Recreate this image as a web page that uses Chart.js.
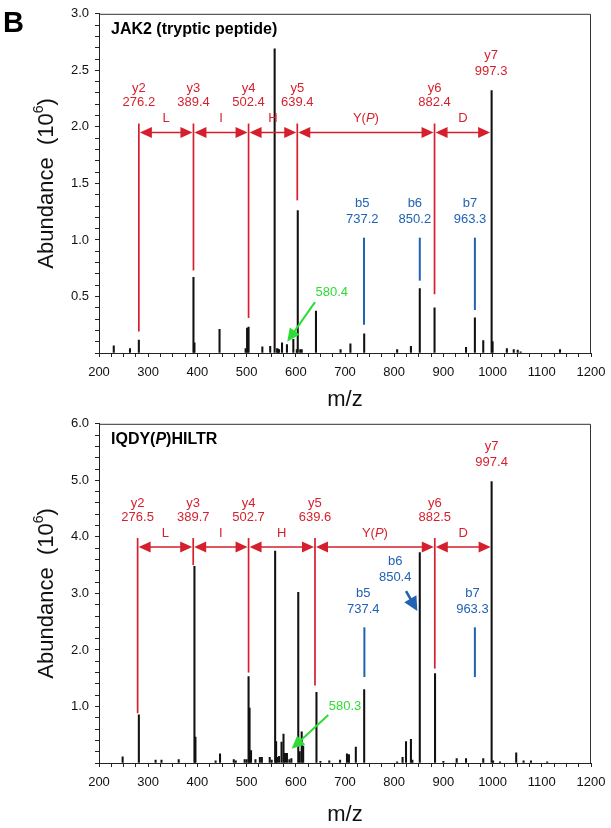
<!DOCTYPE html>
<html>
<head>
<meta charset="utf-8">
<script src="https://cdn.jsdelivr.net/npm/chart.js@4.4.0/dist/chart.umd.min.js"></script>
<style>
html,body{margin:0;padding:0;background:#fff;}
body{width:611px;height:828px;position:relative;overflow:hidden;}
#c1{position:absolute;left:0;top:0;}
#c2{position:absolute;left:0;top:410px;}
</style>
</head>
<body>
<canvas id="c1" width="611" height="410"></canvas>
<canvas id="c2" width="611" height="418"></canvas>
<script>
// peaks, top spectrum (JAK2 tryptic peptide), abundance in 10^6
const topMz = [230,263,281,392,394,445,498,501,504,532,548,557,562,564,566,572,582,595,602,604,609,612,641,691,711,739,806,834,852,882,946,964,981,998,1000,1029,1043,1051,1057,1137];
const topAb = [0.064,0.04,0.115,0.67,0.09,0.21,0.04,0.22,0.23,0.055,0.06,2.69,0.04,0.035,0.03,0.09,0.075,0.12,0.03,1.26,0.03,0.03,0.37,0.03,0.08,0.17,0.03,0.06,0.57,0.40,0.05,0.31,0.11,2.32,0.1,0.04,0.03,0.025,0.01,0.03];

// peaks, bottom spectrum (IQDY(P)HILTR)
const botMz = [248,281,315,327,362,394,396,437,446,474,478,496,500,504,506,509,518,527,531,547,551,558,560,562,566,571,575,578,582,587,591,605,608,612,615,642,650,668,690,704,708,722,739,806,817,824,834,837,852,883,900,927,946,981,998,1001,1015,1048,1063,1078,1111];
const botAb = [0.11,0.85,0.05,0.05,0.06,3.48,0.46,0.04,0.16,0.06,0.04,0.06,0.06,1.53,0.97,0.22,0.06,0.1,0.1,0.1,0.05,3.75,0.38,0.1,0.12,0.37,0.51,0.17,0.17,0.06,0.08,3.02,0.2,0.55,0.3,1.25,0.03,0.04,0.05,0.16,0.15,0.28,1.30,0.02,0.1,0.38,0.42,0.05,3.72,1.58,0.03,0.08,0.08,0.08,4.98,0.04,0.02,0.18,0.04,0.04,0.02];

// y-ion ladder
const yIonName = ['y2','y3','y4','y5','y6','y7'];
const residues = ['L','I','H','Y(P)','D'];
const topIonMz = [281,392,504,603,882,997];
const topIonMass = ['276.2','389.4','502.4','639.4','882.4','997.3'];
const topIonEnd = [0.19,0.73,0.31,1.35,0.52,null];
const botIonMz = [278.5,391.5,504,639,882.5,998];
const botIonMass = ['276.5','389.7','502.7','639.6','882.5','997.4'];
const botIonEnd = [0.88,3.5,1.6,1.37,1.67,null];

// b ions
const bIonName = ['b5','b6','b7'];
const topBMz = [738.6,852,964];
const topBLabelMz = [735,842,954];
const topBMass = ['737.2','850.2','963.3'];
const topBEnd = [0.25,0.64,0.38];
const botBMz = [739.4,852,964];
const botBLabelMz = [737,802,959];
const botBMass = ['737.4','850.4','963.3'];
const botBTop = [2.40,2.96,2.40];
const botBEnd = [1.52,null,1.52];

const FONT = '"Liberation Sans", Arial, Helvetica, sans-serif';
const RED = '#d61f2d', BLUE = '#2162b4', GREEN = '#2fdc36';

function rich(ctx, parts, x, y, align) {
  let w = 0;
  parts.forEach(p => { ctx.font = p[1]; w += ctx.measureText(p[0]).width; });
  let cx = align === 'center' ? x - w / 2 : (align === 'right' ? x - w : x);
  ctx.textAlign = 'left';
  parts.forEach(p => { ctx.font = p[1]; ctx.fillText(p[0], cx, y + (p[2] || 0)); cx += ctx.measureText(p[0]).width; });
}

function head(ctx, tx, ty, ang, len, hw) {
  const bx = tx - len * Math.cos(ang), by = ty - len * Math.sin(ang);
  ctx.beginPath();
  ctx.moveTo(tx, ty);
  ctx.lineTo(bx - hw * Math.sin(ang), by + hw * Math.cos(ang));
  ctx.lineTo(bx + hw * Math.sin(ang), by - hw * Math.cos(ang));
  ctx.closePath();
  ctx.fill();
}

function arrow(ctx, x1, y1, x2, y2, len, hw, lw, color) {
  const ang = Math.atan2(y2 - y1, x2 - x1);
  ctx.strokeStyle = color; ctx.fillStyle = color; ctx.lineWidth = lw;
  ctx.beginPath(); ctx.moveTo(x1, y1);
  ctx.lineTo(x2 - len * 0.8 * Math.cos(ang), y2 - len * 0.8 * Math.sin(ang)); ctx.stroke();
  head(ctx, x2, y2, ang, len, hw);
}

function peakAt(cfg, m) {
  let best = 0;
  cfg.mz.forEach((v, i) => { if (Math.abs(v - m) <= 3) best = Math.max(best, cfg.ab[i]); });
  return best;
}

function anno(cfg) {
  return {
    id: 'anno',
    afterDraw(chart) {
      const {ctx, chartArea: a, scales: {x, y}} = chart;
      const X = v => x.getPixelForValue(v), Y = v => y.getPixelForValue(v);
      const f13 = '13px ' + FONT, f13i = 'italic 13px ' + FONT;
      ctx.save();
      ctx.textBaseline = 'middle';

      // frame top/right
      ctx.strokeStyle = '#333'; ctx.lineWidth = 1;
      ctx.beginPath();
      ctx.moveTo(a.left, a.top + 0.5); ctx.lineTo(a.right - 0.5, a.top + 0.5); ctx.lineTo(a.right - 0.5, a.bottom);
      ctx.stroke();

      // panel letter and title
      ctx.fillStyle = '#000';
      if (cfg.panel) {
        ctx.textBaseline = 'alphabetic';
        ctx.font = 'bold 29px ' + FONT; ctx.textAlign = 'left';
        ctx.fillText('B', 3, 32);
        ctx.textBaseline = 'middle';
      }
      rich(ctx, cfg.title, a.left + 12, a.top + 16, 'left');

      // axis titles
      ctx.save();
      ctx.translate(47, (a.top + a.bottom) / 2);
      ctx.rotate(-Math.PI / 2);
      ctx.fillStyle = '#111';
      rich(ctx, [['Abundance  (10', '22px ' + FONT], ['6', '14px ' + FONT, -8], [')', '22px ' + FONT]], 0, 0, 'center');
      ctx.restore();
      ctx.fillStyle = '#111';
      rich(ctx, [['m/z', '22px ' + FONT]], (a.left + a.right) / 2, a.bottom + cfg.mzDy, 'center');

      // y-ion ladder
      const by = Y(cfg.bracket);
      ctx.strokeStyle = RED; ctx.fillStyle = RED;
      cfg.ionMz.forEach((m, i) => {
        const px = X(m);
        if (cfg.ionEnd[i] !== null) {
          ctx.lineWidth = 1.7;
          ctx.beginPath(); ctx.moveTo(px, by - 9); ctx.lineTo(px, Y(cfg.ionEnd[i])); ctx.stroke();
          rich(ctx, [[yIonName[i], f13]], px, by - 44, 'center');
          rich(ctx, [[cfg.ionMass[i], f13]], px, by - 30, 'center');
        } else {
          const pt = Y(peakAt(cfg, m));
          rich(ctx, [[yIonName[i], f13]], px, pt - 35, 'center');
          rich(ctx, [[cfg.ionMass[i], f13]], px, pt - 19.5, 'center');
        }
      });
      for (let i = 0; i < cfg.ionMz.length - 1; i++) {
        const x1 = X(cfg.ionMz[i]), x2 = X(cfg.ionMz[i + 1]);
        ctx.lineWidth = 1.6;
        ctx.beginPath(); ctx.moveTo(x1 + 4, by); ctx.lineTo(x2 - 4, by); ctx.stroke();
        head(ctx, x1 + 1, by, Math.PI, 12, 5.5);
        head(ctx, x2 - 1, by, 0, 12, 5.5);
        const r = residues[i];
        const parts = r === 'Y(P)' ? [['Y(', f13], ['P', f13i], [')', f13]] : [[r, f13]];
        rich(ctx, parts, (x1 + x2) / 2, by - 14, 'center');
      }

      // b ions
      ctx.strokeStyle = BLUE; ctx.fillStyle = BLUE; ctx.lineWidth = 2;
      cfg.bMz.forEach((m, i) => {
        const top = Y(cfg.bTop[i]);
        if (cfg.bEnd[i] !== null) {
          ctx.beginPath(); ctx.moveTo(X(m), top); ctx.lineTo(X(m), Y(cfg.bEnd[i])); ctx.stroke();
        }
        const lx = X(cfg.bLabelMz[i]);
        rich(ctx, [[bIonName[i], f13]], lx, top - 34, 'center');
        rich(ctx, [[cfg.bMass[i], f13]], lx, top - 18, 'center');
      });
      if (cfg.blueArrow) {
        const b = cfg.blueArrow;
        arrow(ctx, X(b.from[0]), Y(b.from[1]), X(b.to[0]), Y(b.to[1]), 14, 7, 2.6, BLUE);
      }

      // diagnostic ion
      const g = cfg.green;
      arrow(ctx, X(g.from[0]), Y(g.from[1]), X(g.to[0]), Y(g.to[1]), 13, 6, 2, GREEN);
      ctx.fillStyle = GREEN;
      rich(ctx, [[g.label, f13]], X(g.at[0]), Y(g.at[1]), 'center');
      ctx.restore();
    }
  };
}

function makeChart(id, cfg) {
  const canvas = document.getElementById(id);
  const H = canvas.height;
  return new Chart(canvas, {
    type: 'bar',
    data: {
      datasets: [{
        data: cfg.mz.map((m, i) => ({x: m, y: cfg.ab[i]})),
        backgroundColor: '#111',
        borderWidth: 0,
        barThickness: 1.4,
        grouped: false
      }]
    },
    options: {
      responsive: false,
      animation: false,
      layout: {padding: {left: 0, right: 20, top: 12, bottom: 0}},
      plugins: {legend: {display: false}, tooltip: {enabled: false}},
      scales: {
        x: {
          type: 'linear', min: 200, max: 1200, offset: false,
          grid: {offset: false, drawOnChartArea: false, tickLength: 4, color: '#222'},
          border: {color: '#222', width: 1},
          ticks: {
            stepSize: 25, autoSkip: false, maxRotation: 0, padding: 5, color: '#111',
            font: {family: FONT, size: 13, lineHeight: 1.6},
            callback: v => (Math.abs(v % 100) < 1e-6 ? String(v) : '')
          },
          afterFit: s => { s.height = H - 353; }
        },
        y: {
          min: 0, max: cfg.ymax,
          grid: {drawOnChartArea: false, tickLength: 4, color: '#222'},
          border: {color: '#222', width: 1},
          ticks: {
            stepSize: cfg.ystep, autoSkip: false, padding: 6, color: '#111',
            font: {family: FONT, size: 13},
            callback: v => {
              const q = v / cfg.yevery;
              return (v > 0 && Math.abs(q - Math.round(q)) < 1e-6) ? v.toFixed(1) : '';
            }
          },
          afterFit: s => { s.width = 99; }
        }
      }
    },
    plugins: [anno(cfg)]
  });
}

makeChart('c1', {
  mz: topMz, ab: topAb, ymax: 3, ystep: 0.1, yevery: 0.5, panel: true, mzDy: 47,
  title: [['JAK2 (tryptic peptide)', 'bold 16px ' + FONT]],
  ionMz: topIonMz, ionMass: topIonMass, ionEnd: topIonEnd, bracket: 1.95,
  bMz: topBMz, bLabelMz: topBLabelMz, bMass: topBMass, bTop: [1.02, 1.02, 1.02], bEnd: topBEnd,
  green: {label: '580.4', at: [673, 0.54], from: [639, 0.45], to: [582.6, 0.1]}
});

makeChart('c2', {
  mz: botMz, ab: botAb, ymax: 6, ystep: 0.2, yevery: 1, panel: false, mzDy: 52,
  title: [['IQDY(', 'bold 16px ' + FONT], ['P', 'italic bold 16px ' + FONT], [')HILTR', 'bold 16px ' + FONT]],
  ionMz: botIonMz, ionMass: botIonMass, ionEnd: botIonEnd, bracket: 3.82,
  bMz: botBMz, bLabelMz: botBLabelMz, bMass: botBMass, bTop: botBTop, bEnd: botBEnd,
  blueArrow: {from: [824, 3.04], to: [847, 2.69]},
  green: {label: '580.3', at: [700, 1.0], from: [666, 0.85], to: [591.5, 0.25]}
});
</script>
</body>
</html>
